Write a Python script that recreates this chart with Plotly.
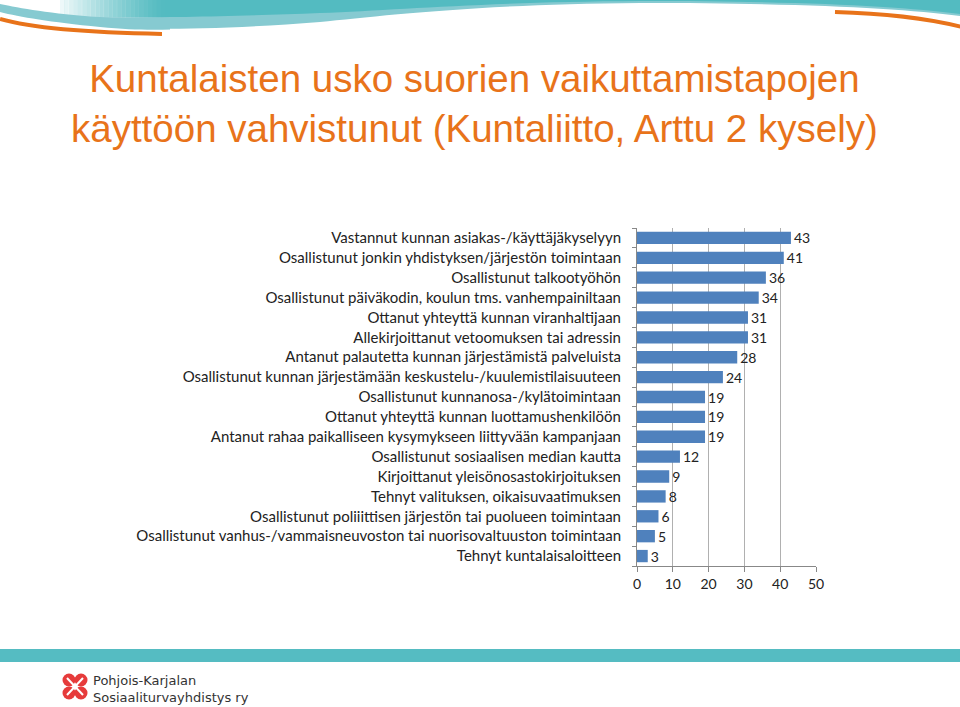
import plotly.graph_objects as go

categories = [
    "Vastannut kunnan asiakas-/käyttäjäkyselyyn",
    "Osallistunut jonkin yhdistyksen/järjestön toimintaan",
    "Osallistunut talkootyöhön",
    "Osallistunut päiväkodin, koulun tms. vanhempainiltaan",
    "Ottanut yhteyttä kunnan viranhaltijaan",
    "Allekirjoittanut vetoomuksen tai adressin",
    "Antanut palautetta kunnan järjestämistä palveluista",
    "Osallistunut kunnan järjestämään keskustelu-/kuulemistilaisuuteen",
    "Osallistunut kunnanosa-/kylätoimintaan",
    "Ottanut yhteyttä kunnan luottamushenkilöön",
    "Antanut rahaa paikalliseen kysymykseen liittyvään kampanjaan",
    "Osallistunut sosiaalisen median kautta",
    "Kirjoittanut yleisönosastokirjoituksen",
    "Tehnyt valituksen, oikaisuvaatimuksen",
    "Osallistunut poliiittisen järjestön tai puolueen toimintaan",
    "Osallistunut vanhus-/vammaisneuvoston tai nuorisovaltuuston toimintaan",
    "Tehnyt kuntalaisaloitteen",
]
values = [43, 41, 36, 34, 31, 31, 28, 24, 19, 19, 19, 12, 9, 8, 6, 5, 3]
x_ticks = [0, 10, 20, 30, 40, 50]

W, H = 960, 707
L, R, T, B = 637, 816, 228, 566


def px(x):
    return (x - L) / (R - L)


def py(y):
    return (B - y) / (B - T)


def path(cmds):
    out = []
    for cmd in cmds:
        if isinstance(cmd, str):
            out.append(cmd)
        else:
            out.append(f"{px(cmd[0]):.4f},{py(cmd[1]):.4f}")
    return " ".join(out)


fig = go.Figure()
fig.add_trace(go.Bar(
    y=categories,
    x=values,
    orientation="h",
    marker=dict(color="#4F81BD", line=dict(width=0)),
    width=0.62,
    text=[str(v) for v in values],
    textposition="outside",
    constraintext="none",
    textfont=dict(family="Lato, sans-serif", size=14, color="#222222"),
    cliponaxis=False,
    hoverinfo="skip",
))

shapes = []
# top teal wave: light band
shapes.append(dict(type="path", xref="paper", yref="paper",
                   path="M " + path([(0, 0), "L", (960, 0), "L", (960, 16), "C", (900, 8), (800, 3), (640, 3),
                                     "C", (480, 4), (380, 16), (320, 22), "C", (220, 30), (130, 30), (100, 27),
                                     "C", (50, 22), (20, 17), (0, 12)]) + " Z",
                   fillcolor="#86CAD1", line=dict(width=0), layer="above"))
# dark band
shapes.append(dict(type="path", xref="paper", yref="paper",
                   path="M " + path([(0, 0), "L", (960, 0), "L", (960, 14), "C", (900, 6), (800, 1), (640, 1),
                                     "C", (480, 2), (400, 10), (320, 13), "C", (220, 17), (130, 18), (100, 17),
                                     "C", (50, 14), (20, 8), (0, 4)]) + " Z",
                   fillcolor="#53BBC1", line=dict(width=0), layer="above"))
# smooth white highlight at top-left (gradient made of thin strips)
n_steps = 24
x_start, x_end = 60, 165
shapes.append(dict(type="rect", xref="paper", yref="paper",
                   x0=px(0), x1=px(x_start), y0=py(19), y1=py(0),
                   fillcolor="white", line=dict(width=0), layer="above"))
step = (x_end - x_start) / n_steps
for i in range(n_steps):
    a = x_start + i * step
    op = 0.92 * (1 - (i + 0.5) / n_steps) ** 1.3
    shapes.append(dict(type="rect", xref="paper", yref="paper",
                       x0=px(a), x1=px(a + step + 0.3), y0=py(19), y1=py(0),
                       fillcolor="white", opacity=op, line=dict(width=0), layer="above"))
# redraw light band under the highlight
shapes.append(dict(type="path", xref="paper", yref="paper",
                   path="M " + path([(0, 4), "C", (20, 8), (50, 14), (100, 17), "C", (130, 18), (150, 18), (170, 17.6),
                                     "L", (170, 30), "L", (0, 30)]) + " Z",
                   fillcolor="#86CAD1", line=dict(width=0), layer="above"))
shapes.append(dict(type="path", xref="paper", yref="paper",
                   path="M " + path([(0, 12), "C", (20, 17), (50, 22), (100, 27), "C", (130, 30), (150, 30), (172, 29.5),
                                     "L", (172, 40), "L", (0, 40)]) + " Z",
                   fillcolor="white", line=dict(width=0), layer="above"))
# orange curves
shapes.append(dict(type="path", xref="paper", yref="paper",
                   path="M " + path([(0, 19), "Q", (45, 32), (162, 34)]),
                   line=dict(color="#E8731A", width=4), layer="above"))
shapes.append(dict(type="path", xref="paper", yref="paper",
                   path="M " + path([(835, 12), "Q", (910, 14), (962, 27)]),
                   line=dict(color="#E8731A", width=4), layer="above"))
# bottom teal band
shapes.append(dict(type="rect", xref="paper", yref="paper",
                   x0=px(0), x1=px(960), y0=py(662), y1=py(649),
                   fillcolor="#55BCC2", line=dict(width=0), layer="above"))
# logo symbol (four red lobes)
for cx, cy in [(69, 680), (81, 680), (69, 693), (81, 693)]:
    shapes.append(dict(type="circle", xref="paper", yref="paper",
                       x0=px(cx - 6.5), x1=px(cx + 6.5), y0=py(cy + 6.5), y1=py(cy - 6.5),
                       fillcolor="#E63B3B", line=dict(width=0), layer="above"))
shapes.append(dict(type="path", xref="paper", yref="paper",
                   path="M " + path([(67, 678), "L", (83, 695)]),
                   line=dict(color="white", width=2), layer="above"))
shapes.append(dict(type="path", xref="paper", yref="paper",
                   path="M " + path([(83, 678), "L", (67, 695)]),
                   line=dict(color="white", width=2), layer="above"))

annotations = [
    dict(text="Kuntalaisten usko suorien vaikuttamistapojen<br>käyttöön vahvistunut (Kuntaliitto, Arttu 2 kysely)",
         xref="paper", yref="paper", x=px(474), y=py(103), xanchor="center", yanchor="middle",
         showarrow=False, align="center",
         font=dict(family="Liberation Sans, Arial, sans-serif", size=38.5, color="#E8731A")),
    dict(text="Pohjois-Karjalan<br>Sosiaaliturvayhdistys ry",
         xref="paper", yref="paper", x=px(91), y=py(689), xanchor="left", yanchor="middle",
         showarrow=False, align="left",
         font=dict(family="DejaVu Sans, sans-serif", size=13, color="#333333")),
]

fig.update_layout(
    width=W, height=H,
    margin=dict(l=L, r=W - R, t=T, b=H - B, pad=0),
    paper_bgcolor="white", plot_bgcolor="white",
    showlegend=False,
    hovermode=False,
    shapes=shapes,
    annotations=annotations,
    xaxis=dict(range=[0, 50], tickvals=x_ticks, ticktext=[str(t) for t in x_ticks],
               showgrid=True, gridcolor="#B0B0B0", gridwidth=1,
               showline=True, linecolor="#888888", ticks="outside", ticklen=5, tickcolor="#888888",
               zeroline=False, fixedrange=True,
               tickfont=dict(family="Lato, sans-serif", size=14, color="#222222")),
    yaxis=dict(categoryorder="array", categoryarray=categories[::-1], autorange=True, fixedrange=True,
               showline=True, linecolor="#888888", ticks="outside", ticklen=4, tickcolor="#888888",
               tickson="boundaries", ticklabelstandoff=12, showgrid=False,
               tickfont=dict(family="Lato, sans-serif", size=15, color="#222222")),
)

fig.write_html("out.html", config={"displayModeBar": False},
               post_script="document.body.style.margin='0';")
